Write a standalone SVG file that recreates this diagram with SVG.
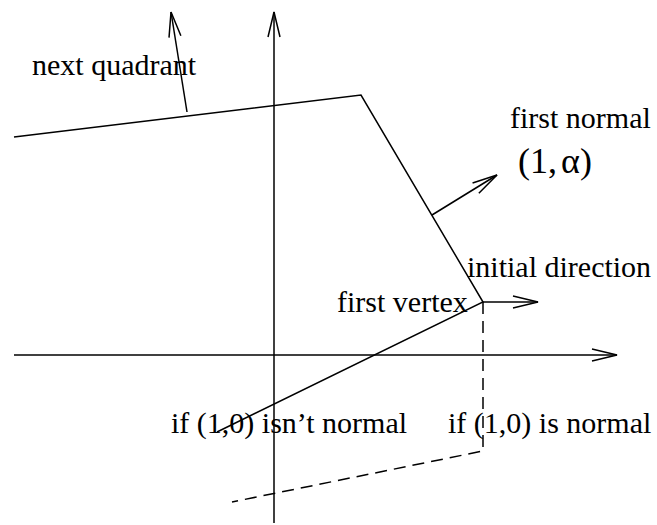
<svg xmlns="http://www.w3.org/2000/svg" width="657" height="525" viewBox="0 0 657 525">
<style>
.ln{fill:none;stroke:#000;stroke-width:1.5}
.ds{fill:none;stroke:#000;stroke-width:1.5;stroke-dasharray:12 7}
.t{font-family:"Liberation Serif","Times New Roman",serif;font-size:30px;fill:#000}
</style>
<defs>
<marker id="arr" markerUnits="userSpaceOnUse" markerWidth="40" markerHeight="20" viewBox="-30 -10 40 20" refX="0" refY="0" orient="auto" overflow="visible">
<path d="M-25,-6 L0,0 L-25,6" fill="none" stroke="#000" stroke-width="1.5"/>
</marker>
</defs>
<g id="connectors">
<line id="x-axis" class="ln" x1="14" y1="355" x2="617" y2="355" marker-end="url(#arr)"/>
<line id="y-axis" class="ln" x1="274" y1="523" x2="274" y2="12" marker-end="url(#arr)"/>
<polyline id="polygon" class="ln" points="14,137 361,95 483,302 217,432"/>
<polyline id="dashed" class="ds" points="483,302 483,451 232,502"/>
<line id="next-quadrant-arrow" class="ln" x1="187" y1="112" x2="171" y2="12" marker-end="url(#arr)"/>
<line id="first-normal-arrow" class="ln" x1="432" y1="215" x2="497" y2="175" marker-end="url(#arr)"/>
<line id="initial-direction-arrow" class="ln" x1="483" y1="302" x2="538" y2="302" marker-end="url(#arr)"/>
</g>
<g id="labels">
<text class="t" x="32" y="75">next quadrant</text>
<text class="t" x="510" y="128">first normal</text>
<text class="t" x="518" y="173" style="font-size:36px">(1,<tspan dx="4">α</tspan>)</text>
<text class="t" x="467" y="277">initial direction</text>
<text class="t" x="337" y="312">first vertex</text>
<text class="t" x="171" y="433">if (1,0) isn’t normal</text>
<text class="t" x="448" y="433">if (1,0) is normal</text>
</g>
</svg>
